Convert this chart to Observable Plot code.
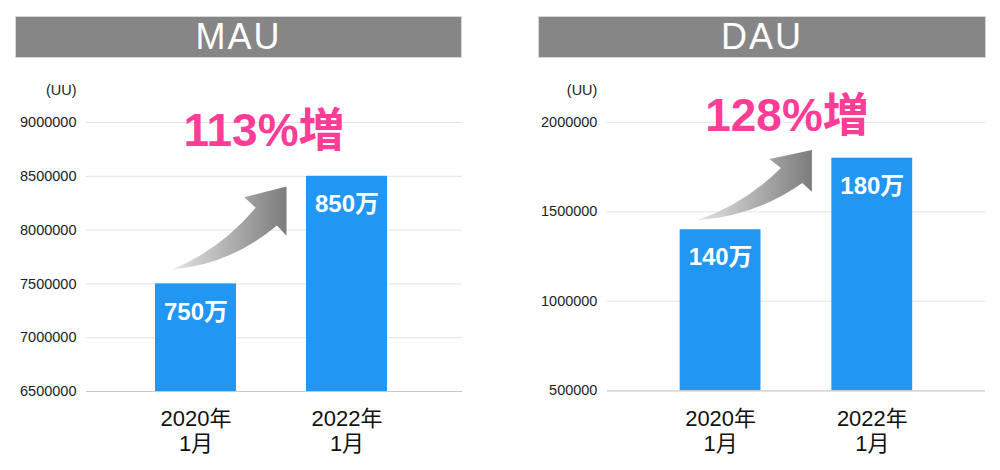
<!DOCTYPE html>
<html>
<head>
<meta charset="utf-8">
<script src="https://cdn.jsdelivr.net/npm/d3@7"></script>
<script src="https://cdn.jsdelivr.net/npm/@observablehq/plot@0.6"></script>
<style>
  html, body { margin: 0; padding: 0; background: #ffffff; }
  #wrap { position: relative; width: 1000px; height: 470px; overflow: hidden; }
  .title {
    position: absolute; top: 16px; height: 42px; box-sizing: border-box;
    background: #868686; border: 1px solid #d6d6d6; color: #ffffff;
    font-family: "Liberation Sans", Arial, sans-serif; font-size: 36px;
    line-height: 40px; text-align: center; letter-spacing: 2px;
  }
  .panel { position: absolute; top: 60px; }
</style>
</head>
<body>
<div id="wrap">
  <div class="title" id="t0" style="left:15px;width:447px;"></div>
  <div class="title" id="t1" style="left:538px;width:448px;"></div>
  <div class="panel" id="p0" style="left:0px;"></div>
  <div class="panel" id="p1" style="left:521px;"></div>
</div>
<script>
// ---- data ----
const categories = ["2020年\n1月", "2022年\n1月"];
const titles = ["MAU", "DAU"];
const mauValues = [7500000, 8500000];
const dauValues = [1400000, 1800000];
const mauLabels = ["750万", "850万"];
const dauLabels = ["140万", "180万"];
const mauTicks = [6500000, 7000000, 7500000, 8000000, 8500000, 9000000];
const dauTicks = [500000, 1000000, 1500000, 2000000];
const growthLabels = ["113%増", "128%増"];
const unitLabel = "(UU)";
const mauArrow = [7630000, 8400000];   // arrow tail / head levels
const dauArrow = [1450000, 1843000];

const FONT = "'Liberation Sans', 'Noto Sans CJK JP', Arial, sans-serif";

function arrowMark(levels, id) {
  return (index, scales) => {
    const x = scales.x, y = scales.y;
    const bw = typeof x.bandwidth === "function" ? x.bandwidth() : (x.bandwidth || 0);
    const tx = x(categories[0]) + bw / 2 - 23, ty = y(levels[0]);
    const hx = x(categories[1]) + bw / 2 - 60, hy = y(levels[1]);
    const dx = hx - tx, dy = hy - ty;
    const P = (u, v) => `${tx + u * dx},${ty + v * dy}`;
    const d = `M${P(0,0)} Q${P(0.42,0.24)} ${P(0.73,0.745)} L${P(0.63,0.87)} L${P(1,1)} L${P(1,0.405)} L${P(0.916,0.53)} Q${P(0.51,0.06)} ${P(0,0)} Z`;
    const g = d3.create("svg:g");
    const grad = g.append("defs").append("linearGradient")
      .attr("id", id).attr("gradientUnits", "userSpaceOnUse")
      .attr("x1", tx).attr("y1", ty).attr("x2", hx).attr("y2", ty);
    grad.append("stop").attr("offset", 0).attr("stop-color", "#e4e4e4");
    grad.append("stop").attr("offset", 1).attr("stop-color", "#7c7c7c");
    g.append("path").attr("d", d).attr("fill", `url(#${id})`);
    return g.node();
  };
}

function makeChart(values, labels, ticks, growth, levels, id, marginRight, align, gdx, gdy) {
  const data = categories.map((c, i) => ({cat: c, value: values[i], label: labels[i]}));
  const y0 = ticks[0], y1 = ticks[ticks.length - 1];
  return Plot.plot({
    width: 480, height: 410,
    marginLeft: 86, marginRight, marginTop: 62, marginBottom: 79,
    style: {fontFamily: FONT, background: "transparent", overflow: "visible"},
    x: {domain: categories, paddingInner: 0.464, paddingOuter: 0.475, align, label: null},
    y: {domain: [y0, y1], label: null},
    marks: [
      Plot.ruleY(ticks.slice(1), {stroke: "#e4e4e4", strokeWidth: 1}),
      Plot.barY(data, {x: "cat", y1: y0, y2: "value", fill: "#2196f3"}),
      Plot.ruleY([y0], {stroke: "#c8c8c8", strokeWidth: 1.2}),
      Plot.axisY({ticks, tickSize: 0, tickPadding: 10, tickFormat: d => String(d),
        fontSize: 14.5, fill: "#222", label: null}),
      Plot.axisX({tickSize: 0, tickPadding: 17, fontSize: 22, lineHeight: 1.14,
        fill: "#111", label: null}),
      Plot.text([unitLabel], {text: d => d, frameAnchor: "top-left", textAnchor: "end",
        lineAnchor: "middle", dx: -10, dy: -32, fontSize: 14.5, fill: "#222"}),
      arrowMark(levels, id),
      Plot.text(data, {x: "cat", y: "value", text: "label", dy: 28, lineAnchor: "middle",
        fill: "#ffffff", fontSize: 24, fontWeight: "bold"}),
      Plot.text([growth], {text: d => d, frameAnchor: "top", lineAnchor: "middle",
        dx: gdx, dy: gdy, fontSize: 46, fontWeight: "bold", fill: "#ff3c96",
        letterSpacing: "-1px"})
    ]
  });
}

document.getElementById("t0").textContent = titles[0];
document.getElementById("t1").textContent = titles[1];
document.getElementById("p0").append(
  makeChart(mauValues, mauLabels, mauTicks, growthLabels[0], mauArrow, "gradMAU", 18, 0.479, -10.5, 9));
document.getElementById("p1").append(
  makeChart(dauValues, dauLabels, dauTicks, growthLabels[1], dauArrow, "gradDAU", 15, 0.5, -9.5, -6));
</script>
</body>
</html>
